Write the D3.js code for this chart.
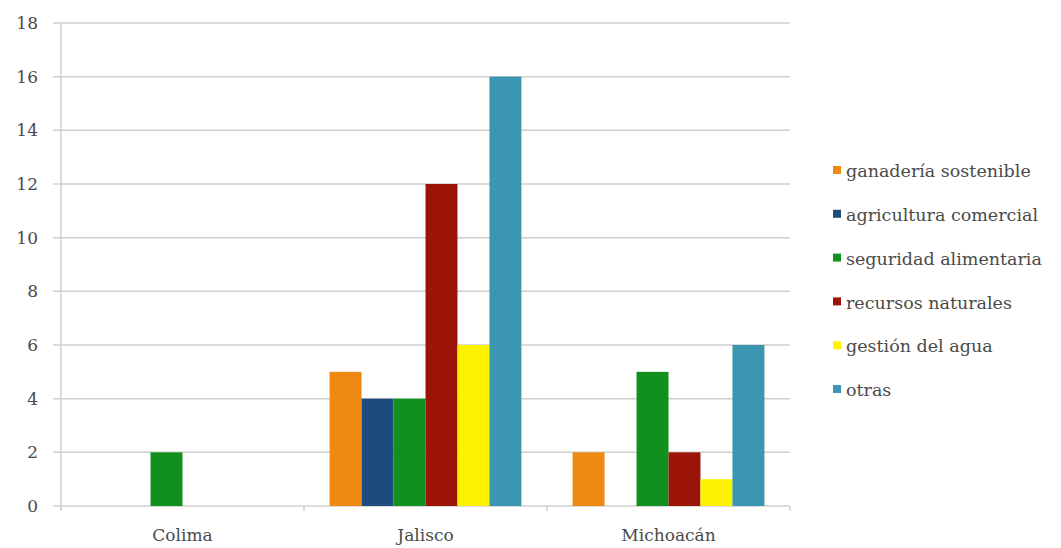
<!DOCTYPE html>
<html><head><meta charset="utf-8">
<script src="https://cdn.jsdelivr.net/npm/d3@7"></script>
<style>body{margin:0;background:#fff}svg{display:block}</style>
</head><body>
<script>
const categories = ["Colima", "Jalisco", "Michoacán"];
const seriesNames = ["ganadería sostenible", "agricultura comercial", "seguridad alimentaria", "recursos naturales", "gestión del agua", "otras"];
const ganaderia = [0, 5, 2];
const agricultura = [0, 4, 0];
const seguridad = [2, 4, 5];
const recursos = [0, 12, 2];
const agua = [0, 6, 1];
const otras = [0, 16, 6];
const seriesValues = [ganaderia, agricultura, seguridad, recursos, agua, otras];
const colors = ["#EE8A12", "#1C4C7E", "#12901E", "#9B1407", "#FFF200", "#3B96B2"];
const yTicks = [0, 2, 4, 6, 8, 10, 12, 14, 16, 18];

const W = 1061, H = 548;
const margin = {left: 61, right: 271, top: 23, bottom: 42};
const svg = d3.select("body").append("svg").attr("width", W).attr("height", H);
const font = "'DejaVu Serif', serif";
const textColor = "#4a4a4a";

const x0 = d3.scaleBand().domain(categories).range([margin.left, W - margin.right]).paddingInner(0).paddingOuter(0);
const x1 = d3.scaleBand().domain(d3.range(seriesNames.length)).range([0, x0.bandwidth()]).paddingOuter(0.8).paddingInner(0);
const y = d3.scaleLinear().domain([0, 18]).range([H - margin.bottom, margin.top]);

// gridlines
svg.append("g").selectAll("line").data(yTicks).join("line")
  .attr("x1", margin.left - 8).attr("x2", W - margin.right)
  .attr("y1", d => y(d)).attr("y2", d => y(d))
  .attr("stroke", "#cfcfcf").attr("stroke-width", 1.5);

// y axis line
svg.append("line").attr("x1", margin.left).attr("x2", margin.left)
  .attr("y1", y(18)).attr("y2", y(0) + 4).attr("stroke", "#cfcfcf").attr("stroke-width", 1.5);

// category ticks
svg.append("g").selectAll("line").data(d3.range(categories.length + 1)).join("line")
  .attr("x1", i => margin.left + i * x0.bandwidth()).attr("x2", i => margin.left + i * x0.bandwidth())
  .attr("y1", y(0)).attr("y2", y(0) + 5).attr("stroke", "#cfcfcf").attr("stroke-width", 1.5);

// y labels
svg.append("g").selectAll("text").data(yTicks).join("text")
  .attr("x", 38).attr("y", d => y(d)).attr("dy", "0.35em").attr("text-anchor", "end")
  .attr("font-family", font).attr("font-size", 17).attr("fill", textColor).text(d => d);

// bars
categories.forEach((c, ci) => {
  seriesValues.forEach((vals, si) => {
    const v = vals[ci];
    if (!v) return;
    svg.append("rect")
      .attr("x", x0(c) + x1(si)).attr("width", x1.bandwidth())
      .attr("y", y(v)).attr("height", y(0) - y(v))
      .attr("fill", colors[si]);
  });
});

// x labels
svg.append("g").selectAll("text").data(categories).join("text")
  .attr("x", d => x0(d) + x0.bandwidth() / 2).attr("y", 541).attr("text-anchor", "middle")
  .attr("font-family", font).attr("font-size", 17).attr("fill", textColor).text(d => d);

// legend
const lg = svg.append("g");
seriesNames.forEach((n, i) => {
  const ly = 171 + i * 43.8;
  lg.append("rect").attr("x", 833).attr("y", ly - 5).attr("width", 8).attr("height", 8).attr("fill", colors[i]);
  lg.append("text").attr("x", 846).attr("y", ly).attr("dy", "0.35em")
    .attr("font-family", font).attr("font-size", 17.5).attr("fill", textColor).text(n);
});
</script>
</body></html>
